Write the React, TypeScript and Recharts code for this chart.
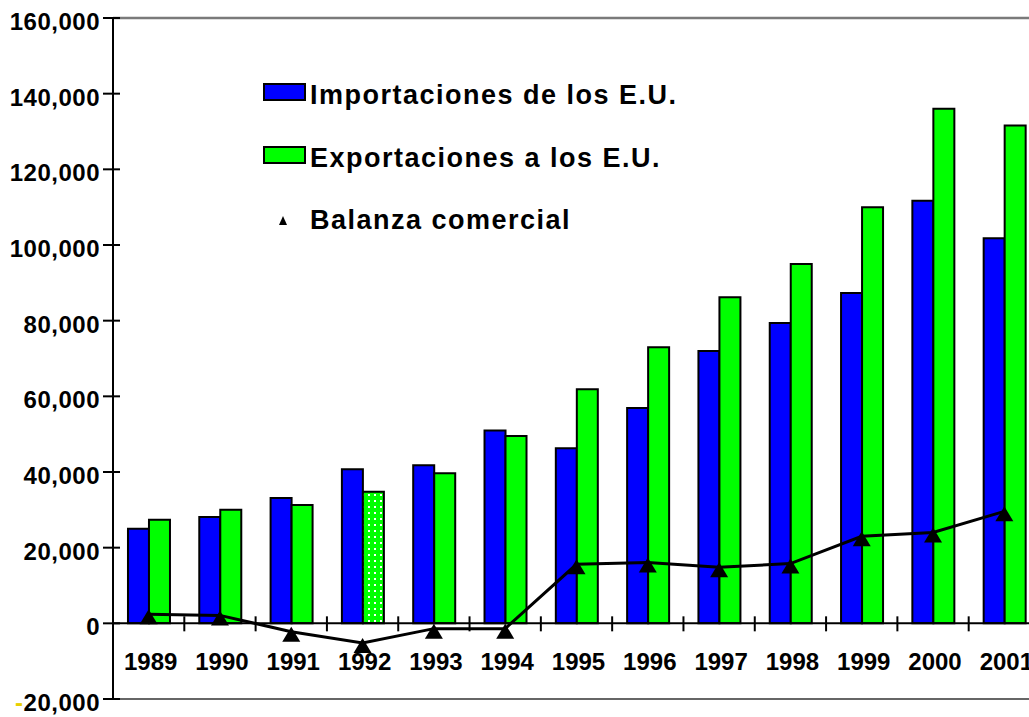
import React from "react";
import { Bar, Cell, ComposedChart, Legend, Line, ReferenceLine, XAxis, YAxis } from "recharts";

const years = ["1989", "1990", "1991", "1992", "1993", "1994", "1995", "1996", "1997", "1998", "1999", "2000", "2001"];
const importaciones = [25000, 28100, 33100, 40700, 41800, 51000, 46300, 56900, 72000, 79400, 87300, 111700, 101800];
const exportaciones = [27400, 30000, 31300, 34800, 39700, 49500, 61900, 73000, 86200, 95000, 110000, 136000, 131600];
const balanza = [2400, 2100, -2200, -5200, -1400, -1400, 15600, 16100, 14800, 15800, 23000, 24000, 29600];
const yTicks = [-20000, 0, 20000, 40000, 60000, 80000, 100000, 120000, 140000, 160000];
const seriesNames = ["Importaciones de los E.U.", "Exportaciones a los E.U.", "Balanza comercial"];

const data = years.map((year, i) => ({
  year,
  imp: importaciones[i],
  exp: exportaciones[i],
  bal: balanza[i],
}));

const W = 1060;
const H = 717;
const M = { top: 18, right: 20, bottom: 17, left: 0 };
const X_AXIS_H = 1;
const Y_AXIS_W = 113;
const Y_MIN = -20000;
const Y_MAX = 160000;
const plotH = H - M.top - M.bottom - X_AXIS_H;
const plotW = W - M.left - M.right - Y_AXIS_W;
const band = plotW / years.length;
const zeroY = M.top + (plotH * Y_MAX) / (Y_MAX - Y_MIN);

const FONT = '"Liberation Sans", Arial, sans-serif';

function YTick({ x, y, payload }: any) {
  const v = payload.value as number;
  const s = Math.abs(v).toLocaleString("en-US");
  return (
    <g>
      <line x1={x - 10} x2={x + 7} y1={y} y2={y} stroke="#000" strokeWidth={2} />
      <text
        x={x - 13}
        y={y + 12}
        textAnchor="end"
        fontFamily={FONT}
        fontWeight="bold"
        fontSize={24}
        letterSpacing={0.5}
        fill="#000"
      >
        {v < 0 && <tspan fill="#e8d000">-</tspan>}
        {s}
      </text>
    </g>
  );
}

function XTick({ x, payload, index }: any) {
  // labels sit under the zero line, not at the bottom of the plot
  return (
    <g>
      {index < years.length - 1 && (
        <line x1={x + band / 2} x2={x + band / 2} y1={zeroY - 7} y2={zeroY + 8} stroke="#000" strokeWidth={2} />
      )}
      <text x={x + 2} y={zeroY + 47} textAnchor="middle" fontFamily={FONT} fontWeight="bold" fontSize={24} fill="#000">
        {payload.value}
      </text>
    </g>
  );
}

function Tri({ cx, cy }: any) {
  if (cx == null || cy == null) return null;
  return <path d={`M${cx},${cy - 5} L${cx + 9},${cy + 10} L${cx - 9},${cy + 10} Z`} fill="#000" />;
}

function LegendBox() {
  const swatch = (fill: string) => ({
    position: "absolute" as const,
    left: 0,
    top: 1,
    width: 43,
    height: 18,
    boxSizing: "border-box" as const,
    border: "2px solid #000",
    background: fill,
  });
  const text = { position: "absolute" as const, left: 47, top: 0, whiteSpace: "nowrap" as const };
  return (
    <div
      style={{
        position: "relative",
        width: 460,
        height: 160,
        fontFamily: FONT,
        fontWeight: "bold",
        fontSize: 27,
        letterSpacing: 1.5,
        lineHeight: "27px",
        color: "#000",
      }}
    >
      <div style={{ position: "absolute", top: 0, left: 0 }}>
        <div style={swatch("#0000ff")} />
        <div style={text}>{seriesNames[0]}</div>
      </div>
      <div style={{ position: "absolute", top: 62.5, left: 0 }}>
        <div style={swatch("#00ff00")} />
        <div style={text}>{seriesNames[1]}</div>
      </div>
      <div style={{ position: "absolute", top: 125, left: 0 }}>
        <svg width={12} height={12} style={{ position: "absolute", left: 14, top: 8 }}>
          <path d="M6,1 L10,10 L2,10 Z" fill="#000" />
        </svg>
        <div style={text}>{seriesNames[2]}</div>
      </div>
    </div>
  );
}

export default function App() {
  return (
    <div style={{ position: "absolute", left: 0, top: 0, width: 1029, height: 717, overflow: "hidden", background: "#fff" }}>
      <ComposedChart width={W} height={H} data={data} margin={M} barCategoryGap="21%" barGap={0}>
        <defs>
          <pattern id="dots" width="6" height="6" patternUnits="userSpaceOnUse">
            <rect width="6" height="6" fill="#00ff00" />
            <rect x="2" y="2" width="2" height="2" fill="#ffffff" />
          </pattern>
        </defs>
        <YAxis
          type="number"
          domain={[Y_MIN, Y_MAX]}
          ticks={yTicks}
          width={Y_AXIS_W}
          tickSize={0}
          tickMargin={0}
          tick={<YTick />}
          axisLine={{ stroke: "#000", strokeWidth: 2 }}
          interval={0}
        />
        <XAxis
          dataKey="year"
          height={X_AXIS_H}
          tickSize={0}
          tickMargin={0}
          interval={0}
          tick={<XTick />}
          axisLine={{ stroke: "#666", strokeWidth: 2 }}
          tickLine={false}
        />
        <ReferenceLine y={Y_MAX} stroke="#7a7a7a" strokeWidth={2.5} />
        <Bar dataKey="imp" name={seriesNames[0]} fill="#0000ff" stroke="#000" strokeWidth={2} isAnimationActive={false} />
        <Bar dataKey="exp" name={seriesNames[1]} fill="#00ff00" stroke="#000" strokeWidth={2} isAnimationActive={false}>
          {data.map((d, i) => (
            <Cell key={d.year} fill={i === 3 ? "url(#dots)" : "#00ff00"} />
          ))}
        </Bar>
        <ReferenceLine y={0} stroke="#000" strokeWidth={2} />
        <Line
          dataKey="bal"
          name={seriesNames[2]}
          type="linear"
          stroke="#000"
          strokeWidth={3}
          dot={<Tri />}
          activeDot={false}
          isAnimationActive={false}
        />
        <Legend
          layout="vertical"
          align="center"
          verticalAlign="middle"
          wrapperStyle={{ left: 263, top: 82, width: 460 }}
          content={() => <LegendBox />}
        />
      </ComposedChart>
    </div>
  );
}
